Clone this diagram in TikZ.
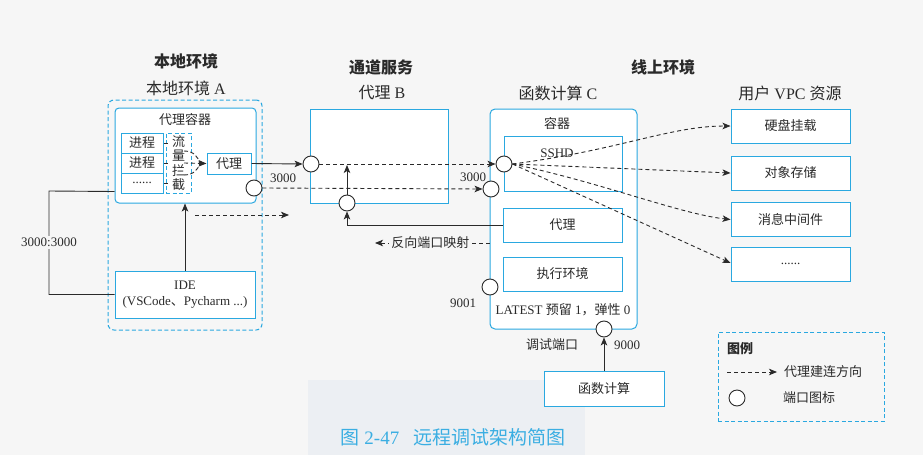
\documentclass[tikz,border=0pt]{standalone}
\usepackage{fontspec}
\setmainfont{Liberation Serif}
\newfontfamily\cjk{Noto Sans CJK SC}
\usetikzlibrary{arrows.meta}
\definecolor{cb}{HTML}{2AA8E0}
\definecolor{tx}{HTML}{2A2A2A}
\definecolor{bg}{HTML}{F6F6F6}
\definecolor{capc}{HTML}{3BAEE2}
\definecolor{smear}{HTML}{ECEFF3}
\newcommand\fsz[1]{\fontsize{#1}{#1}\selectfont}
\tikzset{
  box/.style={draw=cb, line width=1pt, fill=white, inner sep=0pt, text=tx, font=\cjk\fsz{13}},
  dbox/.style={draw=cb, line width=1pt, dashed, dash pattern=on 4pt off 2.5pt, inner sep=0pt},
  port/.style={circle, draw=tx, line width=0.9pt, fill=white, minimum size=16pt, inner sep=0pt},
  conn/.style={draw=tx, line width=0.9pt},
  arr/.style={conn, -{Stealth[length=8pt,width=6.5pt,inset=2pt]}},
  darr/.style={arr, dash pattern=on 4pt off 3pt},
  lbl/.style={text=tx, font=\cjk\fsz{13}, inner sep=1pt},
  num/.style={text=tx, font=\fsz{13}, inner sep=1pt},
  ttl/.style={text=tx, font=\cjk\bfseries\fsz{16}, inner sep=0pt},
  sub/.style={text=tx, font=\fsz{16}, inner sep=0pt},
}
\begin{document}
\begin{tikzpicture}[x=1pt,y=-1pt]
\fill[bg] (0,0) rectangle (923,455);
\fill[smear] (308,380) rectangle (585,455);
\useasboundingbox (0,0) rectangle (923,455);

% ---- titles
\node[ttl] (tA) at (186,61) {本地环境};
\node[sub] (sA) at (186,88) {{\cjk 本地环境} A};
\node[ttl] (tB) at (381,67) {通道服务};
\node[sub] (sB) at (382,93) {{\cjk 代理} B};
\node[ttl] (tC) at (663,67) {线上环境};
\node[sub] (sC) at (558,93) {{\cjk 函数计算} C};
\node[sub] (sV) at (790,93) {{\cjk 用户} VPC {\cjk 资源}};

% ---- local environment A
\node[dbox, rounded corners=6pt, minimum width=154pt, minimum height=230pt] (envA) at (185,215) {};
\node[box, rounded corners=4pt, minimum width=141pt, minimum height=95pt] (cont) at (185.5,155.5) {};
\node[lbl] (contl) at (185,120) {代理容器};
\node[box, minimum width=42pt, minimum height=20pt] (p1) at (142,143) {进程};
\node[box, minimum width=42pt, minimum height=20pt] (p2) at (142,163) {进程};
\node[box, minimum width=42pt, minimum height=20pt, font=\fsz{13}] (p3) at (142,183) {......};
\node[dbox, minimum width=25pt, minimum height=60pt, align=center, text=tx, font=\cjk\fontsize{13}{14.5}\selectfont] (icpt) at (178.5,163) {流\\量\\拦\\截};
\node[box, minimum width=44pt, minimum height=21pt] (proxyA) at (229,163.5) {代理};
\node[box, minimum width=140pt, minimum height=47pt, align=center, font=\fsz{13}, text=tx] (IDE) at (185,294.5) {IDE\\[3pt](VSCode{\cjk 、}Pycharm ...)};

% ---- proxy B
\node[box, minimum width=138pt, minimum height=94pt] (B) at (379,156) {};

% ---- function compute C
\node[box, rounded corners=5pt, minimum width=147pt, minimum height=220pt] (C) at (563.5,219) {};
\node[lbl] (cl) at (557,124) {容器};
\node[box, minimum width=118pt, minimum height=55pt] (sshd) at (563,163.5) {};
\node[num] (sshdl) at (557,153) {SSHD};
\node[box, minimum width=119pt, minimum height=34pt] (Cproxy) at (562.5,225) {代理};
\node[box, minimum width=119pt, minimum height=34pt] (exec) at (562.5,274) {执行环境};
\node[num] (latest) at (563,310) {LATEST {\cjk 预留} 1{\cjk ，弹性} 0};
\node[box, minimum width=120pt, minimum height=35pt] (FC) at (604,388.5) {函数计算};
\node[lbl] (dbg) at (552,345) {调试端口};

% ---- VPC resources
\node[box, minimum width=119pt, minimum height=34pt] (v1) at (790.5,126) {硬盘挂载};
\node[box, minimum width=119pt, minimum height=34pt] (v2) at (790.5,173) {对象存储};
\node[box, minimum width=119pt, minimum height=34pt] (v3) at (790.5,219.5) {消息中间件};
\node[box, minimum width=119pt, minimum height=34pt, font=\fsz{13}] (v4) at (790.5,264) {......};

% ---- legend
\node[dbox, minimum width=166pt, minimum height=89pt] (leg) at (801,376.5) {};
\node[lbl, font=\cjk\bfseries\fsz{13}] (legt) at (740,349) {图例};
\node[lbl] (leg1) at (823,372) {代理建连方向};
\node[lbl] (leg2) at (809,398) {端口图标};

% ---- ports
\node[port] (LA) at (254,188) {};
\node[port] (B1) at (311,164) {};
\node[port] (B2) at (347,203) {};
\node[port] (sp) at (504,164) {};
\node[port] (C3000) at (491,189) {};
\node[port] (C9001) at (490,287) {};
\node[port] (C9000) at (604,329) {};
\node[port] (legp) at (737,398) {};

% ---- coordinates
\coordinate (bmid) at (347,165);
\coordinate (rp) at (375,243);
\coordinate (fa) at (195,215);
\coordinate (fb) at (289,215);
\coordinate (kink) at (49,191);
\coordinate (i1) at (184,151);
\coordinate (i2) at (184,163);
\coordinate (i3) at (184,175);
\coordinate (ie) at (200,163.5);
\coordinate (lg1) at (727,372);
\coordinate (lg2) at (777,372);

% ---- number labels
\node[num] (n1) at (283,178) {3000};
\node[num] (n2) at (473,177) {3000};
\node[num] (n3) at (463,303) {9001};
\node[num] (n4) at (627,345) {9000};

% ---- connectors (local)
\foreach \p in {p1,p2,p3} \draw[conn] (\p.east) -- ++(4,0);
\draw[conn, dash pattern=on 4pt off 2.5pt] (i1) .. controls (194,151) and (198,157) .. (ie);
\draw[conn, dash pattern=on 4pt off 2.5pt] (i3) .. controls (194,175) and (198,169) .. (ie);
\draw[darr] (i2) -- (proxyA.west);
\draw[arr] (proxyA.east) -- (B1.west);
\draw[darr] (LA.east) -- (C3000.west);
\draw[darr] (fa) -- (fb);
\draw[arr] (IDE.north) -- (IDE.north |- cont.south);
\draw[conn] ([yshift=12pt]cont.south west) -- (kink) |- (IDE.west)
  node[pos=0.25, fill=bg, num, inner sep=2pt] {3000:3000};

% ---- connectors (B / C)
\draw[darr] (B1.east) -- (sp.west);
\draw[arr] (B2.north) -- (bmid);
\draw[arr] (Cproxy.west) -- (B2 |- Cproxy.west) -- (B2.south);
\draw[darr] (C.west |- rp) -- (rp) node[midway, fill=bg, lbl, inner sep=2pt, xshift=-2pt] {反向端口映射};
\draw[arr] (FC.north) -- (C9000.south);

% ---- SSHD fan-out
\draw[darr] (sp.east) .. controls (620,150) and (670,126) .. (v1.west);
\draw[darr] (sp.east) -- (v2.west);
\draw[darr] (sp.east) .. controls (600,182) and (680,214) .. (v3.west);
\draw[darr] (sp.east) -- ([yshift=1pt]v4.west);

% ---- legend arrow
\draw[darr] (lg1) -- (lg2);

% ---- caption
\node[text=capc, font=\fsz{19}, inner sep=0pt] (cap) at (453,437) {{\cjk 图} 2-47\hspace{14pt}{\cjk 远程调试架构简图}};
\end{tikzpicture}
\end{document}
